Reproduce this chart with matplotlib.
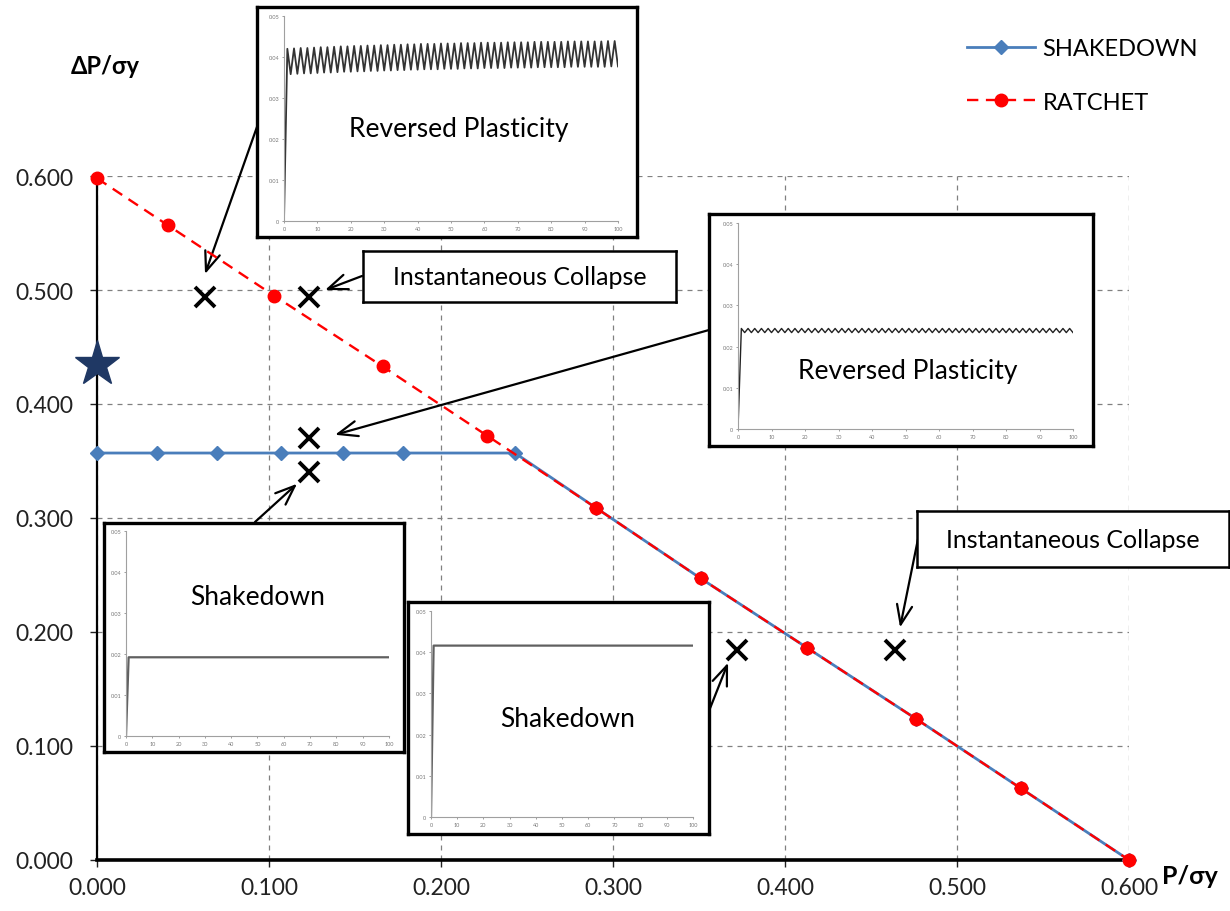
import matplotlib
matplotlib.use('Agg')
import matplotlib.pyplot as plt
import numpy as np

plt.rcParams['font.family'] = ['Lato', 'DejaVu Sans']

# interaction diagram data (P/sy vs dP/sy)
shake_x = [0.000, 0.035, 0.070, 0.107, 0.143, 0.178, 0.243, 0.290, 0.351, 0.413, 0.476, 0.537, 0.600]
shake_y = [0.357, 0.357, 0.357, 0.357, 0.357, 0.357, 0.357, 0.309, 0.247, 0.186, 0.124, 0.063, 0.000]

ratchet_x = [0.000, 0.041, 0.103, 0.166, 0.227, 0.290, 0.351, 0.413, 0.476, 0.537, 0.600]
ratchet_y = [0.598, 0.557, 0.495, 0.433, 0.372, 0.309, 0.247, 0.186, 0.124, 0.063, 0.000]

# load cases that were run through the FE model
case_x = [0.063, 0.123, 0.123, 0.123, 0.372, 0.464]
case_y = [0.494, 0.494, 0.370, 0.340, 0.184, 0.184]
star_x, star_y = 0.000, 0.435

ticks = [0.0, 0.1, 0.2, 0.3, 0.4, 0.5, 0.6]

# strain histories shown in the small plots (cycle number vs strain)
rev_a_peaks = [0.0420, 0.0421, 0.0422, 0.0422, 0.0423, 0.0424, 0.0424, 0.0425, 0.0426, 0.0426,
               0.0427, 0.0427, 0.0428, 0.0428, 0.0429, 0.0429, 0.0430, 0.0430, 0.0431, 0.0431,
               0.0432, 0.0432, 0.0432, 0.0433, 0.0433, 0.0433, 0.0434, 0.0434, 0.0434, 0.0435,
               0.0435, 0.0435, 0.0435, 0.0436, 0.0436, 0.0436, 0.0436, 0.0437, 0.0437, 0.0437,
               0.0437, 0.0437, 0.0438, 0.0438, 0.0438, 0.0438, 0.0438, 0.0438, 0.0439, 0.0439]
rev_a_troughs = [0.0358, 0.0359, 0.0360, 0.0360, 0.0361, 0.0362, 0.0362, 0.0363, 0.0364, 0.0364,
                 0.0365, 0.0365, 0.0366, 0.0366, 0.0367, 0.0367, 0.0368, 0.0368, 0.0369, 0.0369,
                 0.0370, 0.0370, 0.0370, 0.0371, 0.0371, 0.0371, 0.0372, 0.0372, 0.0372, 0.0373,
                 0.0373, 0.0373, 0.0373, 0.0374, 0.0374, 0.0374, 0.0374, 0.0375, 0.0375, 0.0375,
                 0.0375, 0.0375, 0.0376, 0.0376, 0.0376, 0.0376, 0.0376, 0.0376, 0.0377, 0.0377]
rev_b_peaks = [0.0244] * 50
rev_b_troughs = [0.0234] * 50
shake_a_strain = [0.0, 0.0192, 0.0192]
shake_b_strain = [0.0, 0.0416, 0.0416]
shake_cycles = [0, 1, 100]

W, H = 1230, 912


def px_rect(x0, y0, x1, y1):
    return [x0 / W, 1 - y1 / H, (x1 - x0) / W, (y1 - y0) / H]


def px_pt(x, y):
    return (x / W, 1 - y / H)


def cyclic(peaks, troughs):
    cyc, eps = [0], [0.0]
    for k in range(len(peaks)):
        cyc += [2 * k + 1, 2 * k + 2]
        eps += [peaks[k], troughs[k]]
    return cyc, eps


fig = plt.figure(figsize=(12.3, 9.12), dpi=100, facecolor='white')
ax = fig.add_axes(px_rect(97, 177, 1129, 861))

ax.plot(shake_x, shake_y, color='#4A7EBB', lw=2.0, marker='D', ms=7,
        label='SHAKEDOWN', zorder=3, clip_on=False)
ax.plot(ratchet_x, ratchet_y, color='#FF0000', lw=1.7, ls=(0, (4.8, 3.2)),
        marker='o', ms=9, label='RATCHET', zorder=4, clip_on=False)
ax.plot(case_x, case_y, ls='none', marker='x', ms=15, mew=2.8, color='black', zorder=5)
ax.plot(star_x, star_y, marker='*', ms=34, color='#1F3864', zorder=6, clip_on=False)

ax.set_xlim(0, 0.6)
ax.set_ylim(0, 0.6)
ax.set_xticks(ticks)
ax.set_yticks(ticks)
ax.set_xticklabels(['%.3f' % t for t in ticks])
ax.set_yticklabels(['%.3f' % t for t in ticks])
ax.grid(True, color='#808080', lw=0.9, ls=(0, (4, 4)))
ax.set_axisbelow(True)
for s in ['top', 'right']:
    ax.spines[s].set_visible(False)
ax.spines['left'].set_linewidth(1.6)
ax.spines['bottom'].set_linewidth(2.6)
ax.tick_params(axis='y', direction='out', length=5, width=1, pad=12, labelsize=16.5, colors='#222222')
ax.tick_params(axis='x', direction='out', length=5, width=1, pad=7, labelsize=16.5, colors='#222222')

fig.text(105 / W, 1 - 67 / H, 'ΔP/σy', ha='center', va='center', fontsize=17, fontweight='bold')
fig.text(1190 / W, 1 - 877 / H, 'P/σy', ha='center', va='center', fontsize=18, fontweight='bold')

fig.legend(loc='upper left', bbox_to_anchor=px_pt(967, 39), frameon=False, fontsize=17,
           handlelength=2.9, handletextpad=0.3, labelspacing=1.38, borderpad=0, borderaxespad=0)

# arrows from the small plots / labels to the load cases
arrows = [
    ((0.0628, 0.514), (258, 125)),
    ((0.1326, 0.500), (362, 277)),
    ((0.1384, 0.373), (709, 331)),
    ((0.1163, 0.330), (255, 523)),
    ((0.3669, 0.173), (707, 717)),
    ((0.4669, 0.204), (918, 540)),
]
for tip, tail in arrows:
    ax.annotate('', xy=tip, xycoords='data', xytext=px_pt(*tail), textcoords='figure fraction',
                annotation_clip=False,
                arrowprops=dict(arrowstyle='->,head_length=1.4,head_width=0.55', color='black',
                                lw=1.6, shrinkA=0, shrinkB=0))


def frame_box(rect, lw):
    b = fig.add_axes(rect)
    b.set_xticks([])
    b.set_yticks([])
    b.set_facecolor('white')
    for s in b.spines.values():
        s.set_linewidth(lw)
        s.set_color('black')
    return b


def strain_plot(outer, inner, cyc, eps, color, lw, title, title_xy):
    frame_box(outer, 2.4)
    a = fig.add_axes(inner)
    a.plot(cyc, eps, color=color, lw=lw)
    a.set_xlim(0, 100)
    a.set_ylim(0, 0.05)
    a.set_xticks(range(0, 101, 10))
    a.set_yticks([0, 0.01, 0.02, 0.03, 0.04, 0.05])
    a.set_yticklabels(['0', '0.01', '0.02', '0.03', '0.04', '0.05'])
    a.patch.set_alpha(0)
    for s in ['top', 'right']:
        a.spines[s].set_visible(False)
    for s in ['left', 'bottom']:
        a.spines[s].set_color('#a0a0a0')
        a.spines[s].set_linewidth(0.8)
    a.tick_params(labelsize=4, colors='#777777', length=1.5, width=0.5, pad=2)
    fig.text(*px_pt(*title_xy), title, ha='center', va='center', fontsize=19, zorder=10)


cyc_a, eps_a = cyclic(rev_a_peaks, rev_a_troughs)
cyc_b, eps_b = cyclic(rev_b_peaks, rev_b_troughs)

strain_plot(px_rect(257, 8, 637, 238), px_rect(284, 17, 618, 222), cyc_a, eps_a,
            '#333333', 1.3, 'Reversed Plasticity', (459, 130))
strain_plot(px_rect(709, 215, 1093, 447), px_rect(738, 224, 1073, 430), cyc_b, eps_b,
            '#222222', 1.0, 'Reversed Plasticity', (908, 372))
strain_plot(px_rect(104, 524, 404, 753), px_rect(126, 532, 389, 737), shake_cycles, shake_a_strain,
            '#606060', 1.6, 'Shakedown', (258, 598))
strain_plot(px_rect(408, 603, 709, 835), px_rect(431, 612, 693, 818), shake_cycles, shake_b_strain,
            '#606060', 1.6, 'Shakedown', (568, 720))

# label boxes
for rect in [px_rect(363, 252, 676, 303), px_rect(917, 512, 1229, 568)]:
    b = frame_box(rect, 1.8)
    b.text(0.5, 0.5, 'Instantaneous Collapse', ha='center', va='center', fontsize=18,
           transform=b.transAxes)

fig.savefig('out.png', dpi=100, facecolor='white')
